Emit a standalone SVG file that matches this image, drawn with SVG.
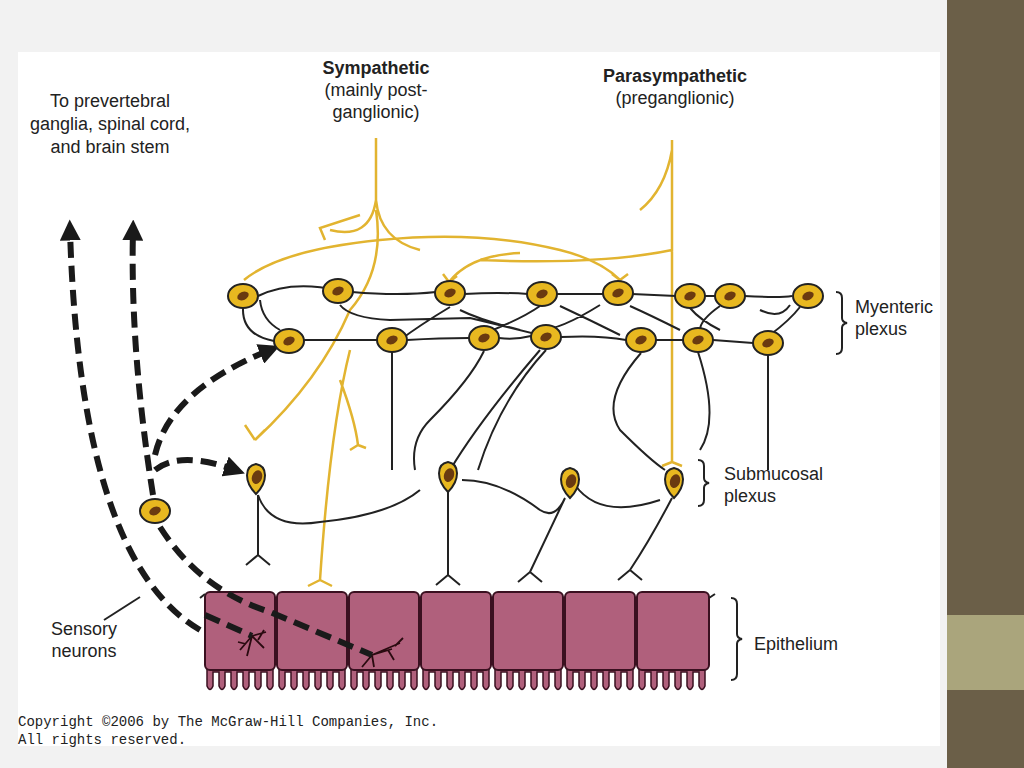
<svg xmlns="http://www.w3.org/2000/svg" width="1024" height="768" viewBox="0 0 1024 768">
<style>
.t{font-family:"Liberation Sans",Arial,sans-serif;fill:#222;font-size:18px}
.y{fill:none;stroke:#e2b430;stroke-width:2.5}
.k{fill:none;stroke:#222;stroke-width:2}
.d{fill:none;stroke:#1a1a1a;stroke-width:6;stroke-dasharray:16,8}
.cell{fill:#b0607c;stroke:#3a1020;stroke-width:2}
.cp{font-family:"Liberation Mono",monospace;font-size:14px;fill:#222}
</style>
<defs>
<g id="n"><ellipse rx="15" ry="12" fill="#e8b820" stroke="#222" stroke-width="2"/><ellipse rx="6" ry="4" fill="#6a3a10" transform="rotate(-25)"/></g>
<g id="s"><path d="M0,-16 C-12,-14 -12,2 0,14 C12,2 12,-14 0,-16Z" fill="#e8b820" stroke="#222" stroke-width="2"/><ellipse cx="0" cy="-3" rx="5" ry="7" fill="#6a3a10" transform="rotate(20)"/></g>
<marker id="a" viewBox="0 0 10 10" refX="5" refY="5" markerWidth="3.5" markerHeight="3.5" orient="auto"><path d="M0,0 L10,5 L0,10Z" fill="#1a1a1a"/></marker>
</defs>
<rect width="1024" height="768" fill="#f2f2f2"/>
<rect x="18" y="52" width="922" height="694" fill="#fff"/>
<rect x="947" y="0" width="77" height="768" fill="#6b5f48"/>
<rect x="947" y="615" width="77" height="75" fill="#aaa57c"/>
<g id="labels">
<text class="t" x="376" y="74" text-anchor="middle" font-weight="bold">Sympathetic</text>
<text class="t" x="376" y="96" text-anchor="middle">(mainly post-</text>
<text class="t" x="376" y="118" text-anchor="middle">ganglionic)</text>
<text class="t" x="675" y="82" text-anchor="middle" font-weight="bold">Parasympathetic</text>
<text class="t" x="675" y="104" text-anchor="middle">(preganglionic)</text>
<text class="t" x="110" y="107" text-anchor="middle">To prevertebral</text>
<text class="t" x="110" y="130" text-anchor="middle">ganglia, spinal cord,</text>
<text class="t" x="110" y="153" text-anchor="middle">and brain stem</text>
<text class="t" x="855" y="313">Myenteric</text>
<text class="t" x="855" y="335">plexus</text>
<text class="t" x="724" y="480">Submucosal</text>
<text class="t" x="724" y="502">plexus</text>
<text class="t" x="754" y="650">Epithelium</text>
<text class="t" x="84" y="635" text-anchor="middle">Sensory</text>
<text class="t" x="84" y="657" text-anchor="middle">neurons</text>
<text class="cp" x="18" y="726">Copyright ©2006 by The McGraw-Hill Companies, Inc.</text>
<text class="cp" x="18" y="744">All rights reserved.</text>
<path class="k" d="M836,292 q6,0 6,6 v20 q0,4 5,5 q-5,1 -5,5 v20 q0,6 -6,6"/>
<path class="k" d="M698,460 q6,0 6,6 v12 q0,4 5,5 q-5,1 -5,5 v12 q0,6 -6,6"/>
<path class="k" d="M731,598 q6,0 6,6 v30 q0,4 5,5 q-5,1 -5,5 v30 q0,6 -6,6"/>
<path class="k" d="M104,620 L140,597"/>
</g>
<g id="epithelium">
<g id="villi" fill="#b0607c" stroke="#3a1020" stroke-width="1.5">
<path id="vl" d="M207,666 v20 q3,7 6,0 v-14 h6 v14 q3,7 6,0 v-14 h6 v14 q3,7 6,0 v-14 h6 v14 q3,7 6,0 v-14 h6 v14 q3,7 6,0 v-14 h6 v14 q3,7 6,0 v-20 z"/>
<use href="#vl" x="72"/><use href="#vl" x="144"/><use href="#vl" x="216"/><use href="#vl" x="288"/><use href="#vl" x="360"/><use href="#vl" x="432"/>
</g>
<g id="cells">
<rect class="cell" x="205" y="592" width="70" height="78" rx="5"/>
<rect class="cell" x="277" y="592" width="70" height="78" rx="5"/>
<rect class="cell" x="349" y="592" width="70" height="78" rx="5"/>
<rect class="cell" x="421" y="592" width="70" height="78" rx="5"/>
<rect class="cell" x="493" y="592" width="70" height="78" rx="5"/>
<rect class="cell" x="565" y="592" width="70" height="78" rx="5"/>
<rect class="cell" x="637" y="592" width="72" height="78" rx="5"/>
</g>
<path class="k" d="M200,598 l5,-4 M709,598 l6,-4" />
<path d="M252,636 l-12,14 M252,636 l-5,20 M252,636 l12,12 M252,636 l14,-4 M246,644 l-8,-2 M258,640 l6,-10" stroke="#2a0a10" stroke-width="1.8" fill="none"/>
<path d="M372,655 l-10,12 M372,655 l20,-6 M372,655 l28,-12 M372,655 l2,12 M388,650 l6,10 M395,646 l8,-8" stroke="#2a0a10" stroke-width="1.8" fill="none"/>
</g>
<g id="connectors">
<path class="y" d="M376,138 V200 Q370,240 330,230 M360,215 L320,228 L325,240 M376,200 Q380,240 420,250 M376,210 Q385,270 350,310 Q320,380 255,440 M255,440 l-10,-15 M255,440 l10,-10 M350,350 Q330,430 320,580 M320,580 l-12,6 M320,580 l12,6 M340,380 Q355,420 358,445 M358,445 l-8,5 M358,445 l8,3"/>
<path class="y" d="M244,280 Q280,250 380,240 Q480,230 560,250 Q600,260 620,280 M620,280 l-8,-6 M620,280 l8,-6 M449,282 Q470,255 520,253 M449,282 l-6,-8 M449,282 l8,-6 M672,140 V250 Q600,265 480,260 M672,250 V462 M672,462 l-10,4 M672,462 l10,4 M672,150 Q665,190 640,210"/>
<g class="k">
<path d="M258,296 Q290,280 338,290 M352,292 Q400,296 436,292 M464,294 Q500,292 528,294 M556,294 L604,294 M632,294 L676,296 M704,296 L716,296 M744,296 Q780,298 792,296"/>
<path d="M243,308 Q242,335 274,341 M304,340 L377,340 M407,340 Q440,338 469,338 M499,338 Q515,340 531,336 M561,337 Q600,335 626,340 M656,340 L683,340 M713,340 L753,343"/>
<path d="M260,300 Q262,320 280,330 M340,305 Q350,318 390,320 L470,318 Q520,330 560,340 M450,307 Q420,325 400,340 M460,310 Q480,320 520,330 M540,306 Q520,320 480,335 M560,306 Q590,320 620,335 M600,305 Q560,330 540,330 M630,306 Q650,315 680,330 M690,308 Q700,320 720,330 M720,306 Q700,320 700,330 M760,310 Q780,320 790,305 M800,307 Q790,320 770,335"/>
<path d="M392,352 V470 M484,351 Q470,380 430,420 Q410,440 415,470 M546,350 Q500,400 478,470 M540,350 Q480,420 450,470 M641,353 Q600,400 620,430 Q650,460 665,470 M698,352 Q720,420 700,450 M768,355 V470"/>
<path d="M258,495 V555 M258,555 l-12,10 M258,555 l12,10 M258,495 Q270,530 320,522 Q390,515 420,490 M448,468 V575 M448,575 l-12,10 M448,575 l12,10 M462,480 Q500,480 540,510 Q555,520 565,498 M565,498 Q545,540 530,572 M530,572 l-12,10 M530,572 l12,10 M575,485 Q600,520 660,500 M672,498 Q650,540 630,570 M630,570 l-12,10 M630,570 l12,10"/>
</g>
<path class="d" d="M200,630 Q80,560 70,230" marker-end="url(#a)"/>
<path class="d" d="M153,495 Q130,350 133,230" marker-end="url(#a)"/>
<path class="d" d="M155,455 Q170,390 270,350" marker-end="url(#a)"/>
<path class="d" d="M155,470 Q180,450 235,470" marker-end="url(#a)"/>
<path class="d" d="M160,527 Q200,590 270,612 L372,655"/>
<path class="d" d="M205,615 L252,636"/>
</g>
<g id="myenteric">
<use href="#n" x="243" y="296"/><use href="#n" x="338" y="291"/><use href="#n" x="450" y="293"/><use href="#n" x="542" y="294"/><use href="#n" x="618" y="293"/><use href="#n" x="690" y="296"/><use href="#n" x="730" y="296"/><use href="#n" x="808" y="296"/>
<use href="#n" x="289" y="341"/><use href="#n" x="392" y="340"/><use href="#n" x="484" y="338"/><use href="#n" x="546" y="337"/><use href="#n" x="641" y="340"/><use href="#n" x="698" y="340"/><use href="#n" x="768" y="343"/>
</g>
<g id="submucosal">
<use href="#s" x="256" y="480"/><use href="#s" x="448" y="478"/><use href="#s" x="570" y="484"/><use href="#s" x="674" y="484"/>
</g>
<g id="sensory"><use href="#n" x="155" y="511"/></g>
</svg>
